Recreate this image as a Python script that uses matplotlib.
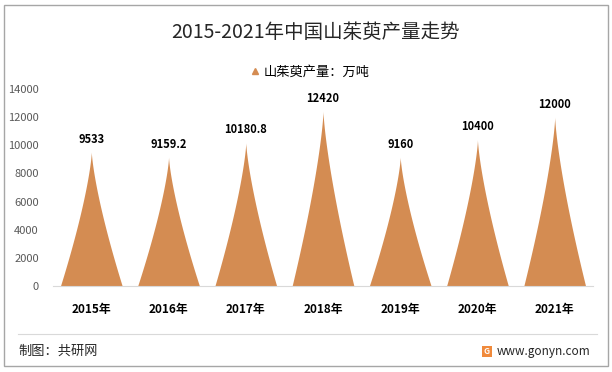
import numpy as np
import matplotlib
matplotlib.use("Agg")
import matplotlib.pyplot as plt
from matplotlib.lines import Line2D
from matplotlib.patches import Rectangle

plt.rcParams['font.family'] = ['Noto Sans CJK SC', 'DejaVu Sans']

# data
years = ['2015年', '2016年', '2017年', '2018年', '2019年', '2020年', '2021年']
output = [9533, 9159.2, 10180.8, 12420, 9160, 10400, 12000]
value_labels = ['9533', '9159.2', '10180.8', '12420', '9160', '10400', '12000']

title = '2015-2021年中国山茱萸产量走势'
series_name = '山茱萸产量：万吨'
spike_color = '#D48C52'

W, H = 612, 372
fig = plt.figure(figsize=(W / 100, H / 100), dpi=100)
ax = fig.add_axes([52.7 / W, 86 / H, 540.6 / W, 197 / H])

# spike (pointed) bars
half = 0.4
for i, v in enumerate(output):
    y = np.linspace(0, v, 300)
    hw = half * (1 - y / v) ** 1.35
    ax.fill_betweenx(y, i - hw, i + hw, color=spike_color, lw=0)
    ax.annotate(value_labels[i], (i, v), xytext=(0, 4.5), textcoords='offset points',
                ha='center', va='bottom', fontsize=8, fontweight='bold', color='black')

ax.set_xlim(-0.5, len(years) - 0.5)
ax.set_ylim(0, 14000)
ax.set_yticks(np.arange(0, 14001, 2000))
ax.set_xticks(range(len(years)))
ax.set_xticklabels(years, fontsize=8.5, fontweight='bold')
ax.tick_params(axis='x', length=0, pad=12)
ax.tick_params(axis='y', length=0, labelsize=8, labelcolor='#595959', pad=10)
for s in ['top', 'right', 'left']:
    ax.spines[s].set_visible(False)
ax.spines['bottom'].set_color('#d9d9d9')
ax.spines['bottom'].set_linewidth(0.8)

# title and legend
fig.text(316 / W, 1 - 33 / H, title, ha='center', va='center', fontsize=14, color='#262626')
handle = Line2D([], [], marker='^', color=spike_color, linestyle='none', markersize=5)
fig.legend([handle], [series_name], loc='center', bbox_to_anchor=(309 / W, 1 - 72 / H),
           frameon=False, fontsize=9.5, handletextpad=0.1, handlelength=1)

# footer
fig.add_artist(Line2D([18 / W, 597 / W], [1 - 334 / H, 1 - 334 / H], color='#d9d9d9', lw=0.8))
fig.text(18 / W, 1 - 351 / H, '制图：共研网', ha='left', va='center', fontsize=9.5, color='#262626')
fig.text(590 / W, 1 - 351 / H, 'www.gonyn.com', ha='right', va='center', fontsize=8.5, color='#262626')
fig.add_artist(Rectangle((482 / W, 1 - 357 / H), 10 / W, 11 / H, transform=fig.transFigure,
                         facecolor='#F08A3C', edgecolor='none'))
fig.text(487 / W, 1 - 351.5 / H, 'G', ha='center', va='center', fontsize=6, color='white',
         fontweight='bold')

# outer border
fig.add_artist(Rectangle((4 / W, 1 - 366 / H), 604 / W, 361 / H, transform=fig.transFigure,
                         facecolor='none', edgecolor='#a6a6a6', lw=1))

fig.savefig('out.png', dpi=100)
